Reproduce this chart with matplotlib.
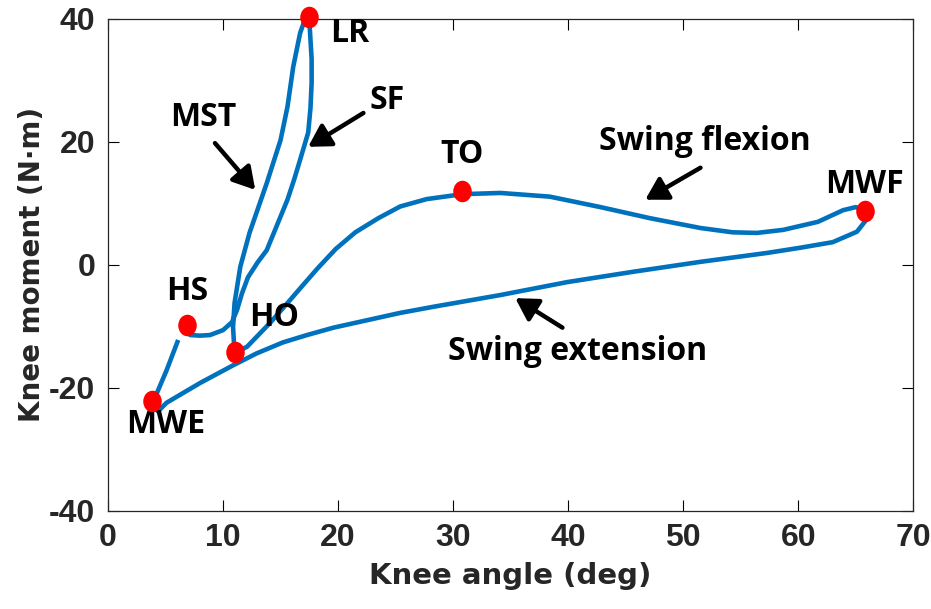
import numpy as np
import matplotlib
matplotlib.use('Agg')
import matplotlib.pyplot as plt
from matplotlib.path import Path

plt.rcParams['axes.unicode_minus'] = False

# knee angle (deg) / knee moment (N.m) over one gait cycle, starting at HS
knee_angle = [6.87, 7.13, 8.0, 8.87, 10.0, 10.78, 11.22, 11.65, 12.17, 13.0, 13.8,
              14.7, 15.6, 16.2, 16.7, 17.4, 17.6, 17.7, 17.7, 17.6, 17.5,
              17.1, 16.7, 16.1, 15.6, 15.0, 13.8, 12.3, 11.5, 11.0, 10.87, 11.0,
              12.09, 14.1, 15.6, 16.8, 18.2, 19.8, 21.5, 23.5, 25.4, 27.7, 30.8, 34.1,
              38.4, 42.8, 47.1, 51.5, 54.3, 56.4, 58.7, 61.7, 63.9, 65.0, 65.8,
              65.9, 65.1, 63.0, 60.2, 57.3, 51.5, 45.7, 39.9, 34.1, 28.3, 25.4,
              22.5, 19.6, 17.3, 15.2, 12.9, 10.9, 8.0, 5.1, 4.35, 3.9, 3.8, 4.1, 5.1, 6.1]
knee_moment = [-9.8, -11.4, -11.5, -11.4, -10.6, -9.3, -7.3, -4.6, -2.0, 0.4, 2.4,
               6.5, 10.6, 14.0, 17.1, 21.5, 25.5, 29.6, 33.5, 36.6, 39.8,
               39.8, 37.7, 32.2, 25.7, 20.3, 13.3, 5.2, -0.3, -6.2, -10.1, -14.3,
               -13.3, -9.4, -6.2, -3.6, -0.6, 2.6, 5.3, 7.6, 9.5, 10.7, 11.5, 11.7,
               11.1, 9.4, 7.6, 6.0, 5.3, 5.2, 5.7, 7.0, 8.9, 9.4, 8.8,
               7.3, 5.4, 3.7, 2.8, 1.95, 0.5, -1.1, -2.8, -4.9, -6.8, -7.8,
               -9.0, -10.2, -11.4, -12.6, -14.4, -16.3, -19.2, -22.4, -23.8, -23.0, -22.1, -21.5, -17.1, -12.2]

# gait events
events = ['HS', 'LR', 'HO', 'TO', 'MWF', 'MWE']
event_angle = [6.9, 17.5, 11.0, 30.8, 65.8, 3.8]
event_moment = [-9.8, 40.3, -14.2, 12.0, 8.8, -22.1]

xticks = [0, 10, 20, 30, 40, 50, 60, 70]
yticks = [-40, -20, 0, 20, 40]

fig = plt.figure(figsize=(9.31, 6.09), dpi=100)
ax = fig.add_axes([0.116, 0.161, 0.865, 0.808])

ax.plot(knee_angle, knee_moment, color='#0072BD', lw=3.3,
        solid_joinstyle='round', solid_capstyle='butt')

# slightly tall ellipse marker like the original
circ = Path.unit_circle()
ell = Path(circ.vertices * np.array([0.85, 1.0]), circ.codes)
ax.plot(event_angle, event_moment, ls='none', marker=ell, ms=14.5,
        color='#FF0000', mec='#FF0000', clip_on=False, zorder=5)

lab_font = dict(family='Open Sans', fontweight='bold', fontsize=23, color='black')
ax.text(19.3, 37.7, 'LR', ha='left', va='center', **lab_font)
ax.text(24.3, 26.7, 'SF', ha='center', va='center', **lab_font)
ax.text(8.3, 23.9, 'MST', ha='center', va='center', **lab_font)
ax.text(6.9, -4.4, 'HS', ha='center', va='center', **lab_font)
ax.text(14.4, -8.5, 'HO', ha='center', va='center', **lab_font)
ax.text(5.0, -26.0, 'MWE', ha='center', va='center', **lab_font)
ax.text(30.8, 17.9, 'TO', ha='center', va='center', **lab_font)
ax.text(65.8, 13.0, 'MWF', ha='center', va='center', **lab_font)
ax.text(51.9, 20.0, 'Swing flexion', ha='center', va='center', **lab_font)
ax.text(40.8, -14.0, 'Swing extension', ha='center', va='center', **lab_font)

# arrows (tail -> head)
arrows = [((9.3, 19.8), (12.8, 12.2)),
          ((22.2, 24.7), (17.4, 19.2)),
          ((51.5, 15.8), (46.7, 10.6)),
          ((39.5, -10.2), (35.4, -5.4))]
for tail, head in arrows:
    ax.annotate('', xy=head, xytext=tail,
                arrowprops=dict(arrowstyle='-|>,head_length=0.6,head_width=0.35',
                                lw=3.2, color='black', mutation_scale=22,
                                shrinkA=0, shrinkB=0))

ax.set_xlim(0, 70)
ax.set_ylim(-40, 40)
ax.set_xticks(xticks)
ax.set_yticks(yticks)
ax.tick_params(direction='in', length=8, width=0.8, top=True, right=True,
               labelsize=23, pad=9)
for lab in ax.get_xticklabels() + ax.get_yticklabels():
    lab.set_fontweight('bold')
    lab.set_family('Liberation Sans')
    lab.set_color('#262626')
for s in ax.spines.values():
    s.set_linewidth(0.9)
    s.set_color('#262626')

ax.set_xlabel('Knee angle (deg)', fontsize=21, fontweight='bold', color='#262626', labelpad=6)
ax.set_ylabel('Knee moment (N\u00b7m)', fontsize=20, fontweight='bold', color='#262626', labelpad=2)

plt.savefig('out.png', dpi=100)
